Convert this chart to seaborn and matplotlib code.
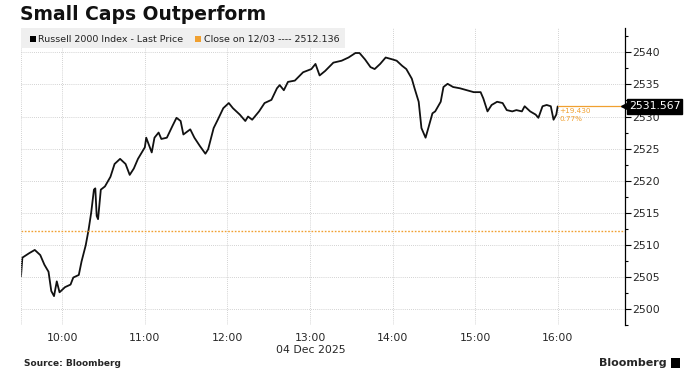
import pandas as pd
import numpy as np
import matplotlib
matplotlib.use("Agg")
import matplotlib.pyplot as plt
import matplotlib.dates as mdates
from matplotlib.patches import Rectangle
import seaborn as sns

# Russell 2000 intraday, 04 Dec 2025
times = [
    "09:30", "09:31", "09:36", "09:40", "09:44", "09:47", "09:50", "09:52",
    "09:54", "09:56", "09:58", "10:02", "10:06", "10:08", "10:12", "10:14",
    "10:17", "10:19", "10:21", "10:23", "10:24", "10:25", "10:26", "10:28",
    "10:31", "10:35", "10:38", "10:42", "10:46", "10:49", "10:52", "10:55",
    "11:00", "11:01", "11:05", "11:07", "11:10", "11:12", "11:16", "11:20",
    "11:23", "11:26", "11:28", "11:33", "11:36", "11:40", "11:44", "11:46",
    "11:50", "11:53", "11:57", "12:01", "12:04", "12:09", "12:13", "12:15",
    "12:18", "12:23", "12:27", "12:32", "12:36", "12:38", "12:41", "12:44",
    "12:49", "12:55", "13:01", "13:04", "13:07", "13:11", "13:17", "13:23",
    "13:28", "13:33", "13:36", "13:40", "13:44", "13:47", "13:51", "13:55",
    "14:00", "14:03", "14:07", "14:10", "14:14", "14:16", "14:19", "14:21",
    "14:24", "14:26", "14:29", "14:31", "14:35", "14:37", "14:40", "14:44",
    "14:49", "14:54", "14:59", "15:04", "15:06", "15:09", "15:12", "15:16",
    "15:20", "15:23", "15:27", "15:30", "15:34", "15:36", "15:40", "15:44",
    "15:46", "15:49", "15:52", "15:55", "15:57", "15:59", "16:00",
]
prices = [
    2505.1, 2508.0, 2508.7, 2509.2, 2508.4, 2506.9, 2505.8, 2502.8,
    2502.0, 2504.3, 2502.6, 2503.4, 2503.8, 2504.9, 2505.3, 2507.4,
    2509.9, 2512.2, 2515.0, 2518.6, 2518.8, 2514.5, 2514.0, 2518.6,
    2519.1, 2520.6, 2522.6, 2523.4, 2522.6, 2520.9, 2521.9, 2523.4,
    2525.2, 2526.7, 2524.4, 2526.7, 2527.5, 2526.5, 2526.7, 2528.5,
    2529.8, 2529.3, 2527.2, 2528.0, 2526.7, 2525.4, 2524.2, 2524.9,
    2528.2, 2529.5, 2531.3, 2532.1, 2531.3, 2530.3, 2529.3, 2530.0,
    2529.5, 2530.8, 2532.1, 2532.6, 2534.4, 2534.9, 2534.1, 2535.4,
    2535.6, 2536.9, 2537.4, 2538.2, 2536.4, 2537.1, 2538.4, 2538.7,
    2539.2, 2539.9, 2539.9, 2538.9, 2537.7, 2537.4, 2538.2, 2539.2,
    2538.9, 2538.7, 2537.9, 2537.4, 2535.9, 2534.4, 2532.3, 2528.2,
    2526.7, 2528.2, 2530.5, 2530.8, 2532.3, 2534.6, 2535.1, 2534.6,
    2534.4, 2534.1, 2533.8, 2533.8, 2532.8, 2530.8, 2531.8, 2532.3,
    2532.1, 2531.0, 2530.8, 2531.0, 2530.8, 2531.6, 2530.8, 2530.3,
    2529.8, 2531.6, 2531.8, 2531.6, 2529.5, 2530.3, 2531.567,
]
prev_close = 2512.136
last_price = 2531.567
change_txt = "+19.430"
pct_txt = "0.77%"
hour_ticks = ["10:00", "11:00", "12:00", "13:00", "14:00", "15:00", "16:00"]
y_ticks = [2500, 2505, 2510, 2515, 2520, 2525, 2530, 2535, 2540]

day = "2025-12-04 "
df = pd.DataFrame({
    "time": pd.to_datetime([day + t for t in times]),
    "price": prices,
})

sns.set_style("white")
plt.rcParams["font.family"] = ["DejaVu Sans"]

orange = "#f0a030"
fig = plt.figure(figsize=(7, 3.9), dpi=100)
ax = fig.add_axes([0.03, 0.1667, 0.863, 0.7615])

sns.lineplot(data=df, x="time", y="price", ax=ax, color="#111111", linewidth=1.3)

x0 = pd.Timestamp(day + "09:30")
x1 = x0 + pd.Timedelta(minutes=439)
ax.set_xlim(x0, x1)
ax.set_ylim(2498.5, 2543.8)

# previous close and last price lines
ax.axhline(prev_close, color=orange, linestyle=(0, (1.2, 1.2)), linewidth=1.0)
ax.plot([df["time"].iloc[-1], x1], [last_price, last_price], color=orange, linewidth=0.9)

# grid
ax.set_xticks(pd.to_datetime([day + t for t in hour_ticks]))
ax.xaxis.set_major_formatter(mdates.DateFormatter("%H:%M"))
ax.set_yticks(y_ticks)
ax.set_yticks(np.arange(2497.5, 2545, 5), minor=True)
ax.grid(True, which="major", color="#c4c4c4", linestyle=(0, (1, 1.5)), linewidth=0.6)
ax.axvline(x0, color="#c4c4c4", linestyle=(0, (1, 1.5)), linewidth=0.6)

for s in ["top", "left", "bottom"]:
    ax.spines[s].set_visible(False)
ax.spines["right"].set_color("black")
ax.spines["right"].set_linewidth(0.9)
ax.yaxis.tick_right()
ax.tick_params(axis="y", which="major", direction="out", length=4, width=0.8,
               color="black", labelsize=7.8, pad=1)
ax.tick_params(axis="y", which="minor", direction="out", length=2.5, width=0.8,
               color="black")
ax.tick_params(axis="x", length=0, labelsize=7.8, pad=6)
ax.set_xlabel("")
ax.set_ylabel("")

# last price label
ax.plot([1.0], [last_price], marker="<", markersize=6, color="black",
        transform=ax.get_yaxis_transform(), clip_on=False)
ax.text(1.006, last_price, f"{last_price:.3f}", transform=ax.get_yaxis_transform(),
        color="white", fontsize=7.8, va="center", ha="left",
        bbox=dict(boxstyle="square,pad=0.2", fc="black", ec="black"))

# change annotation
ax.text(df["time"].iloc[-1] + pd.Timedelta(minutes=1), last_price - 0.25, change_txt,
        color=orange, fontsize=5.2, va="top", ha="left")
ax.text(df["time"].iloc[-1] + pd.Timedelta(minutes=1), last_price - 1.45, pct_txt,
        color=orange, fontsize=5.2, va="top", ha="left")

# date under the 13:00 label
fig.text(311 / 700, 1 - 350 / 390, "04 Dec 2025", fontsize=7.8, ha="center", va="center")

# title
fig.text(20 / 700, 1 - 14 / 390, "Small Caps Outperform", fontsize=13.5,
         fontweight="bold", ha="left", va="center", color="#111111")

# legend strip
fig.patches.append(Rectangle((21 / 700, 1 - 48 / 390), 324 / 700, 20 / 390,
                             transform=fig.transFigure, facecolor="#efefef",
                             edgecolor="none", zorder=1))
fig.patches.append(Rectangle((30 / 700, 1 - 42 / 390), 6 / 700, 6 / 390,
                             transform=fig.transFigure, facecolor="black",
                             edgecolor="none", zorder=2))
fig.text(38 / 700, 1 - 39 / 390, "Russell 2000 Index - Last Price", fontsize=6.8,
         ha="left", va="center", color="#222222")
fig.patches.append(Rectangle((195 / 700, 1 - 42 / 390), 6 / 700, 6 / 390,
                             transform=fig.transFigure, facecolor=orange,
                             edgecolor="none", zorder=2))
fig.text(204 / 700, 1 - 39 / 390, f"Close on 12/03 ---- {prev_close:.3f}", fontsize=6.8,
         ha="left", va="center", color="#222222")

# footer
fig.text(24 / 700, 1 - 364 / 390, "Source: Bloomberg", fontsize=6.5,
         fontweight="bold", ha="left", va="center")
fig.text(667 / 700, 1 - 363 / 390, "Bloomberg", fontsize=8,
         fontweight="bold", ha="right", va="center")
fig.patches.append(Rectangle((671 / 700, 1 - 368 / 390), 9 / 700, 10 / 390,
                             transform=fig.transFigure, facecolor="black",
                             edgecolor="none", zorder=2))

fig.savefig("out.png", dpi=100)
